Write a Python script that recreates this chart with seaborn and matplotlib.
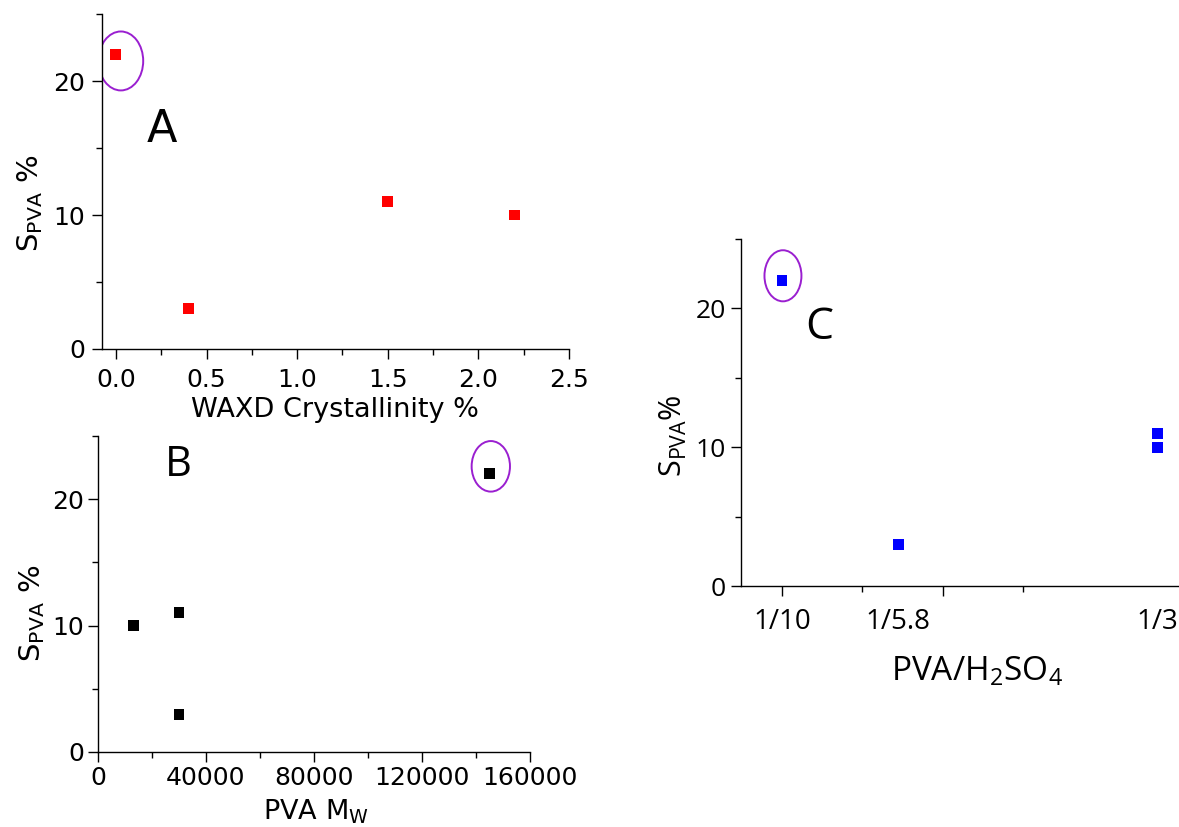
import matplotlib.pyplot as plt
import seaborn as sns
import pandas as pd
from matplotlib.patches import Ellipse
from matplotlib.ticker import MultipleLocator, FixedLocator, NullFormatter

# data: four PVA samples
crystallinity = [0.0, 0.4, 1.5, 2.2]          # WAXD crystallinity %
pva_mw = [145000, 30000, 30000, 13000]         # PVA Mw
pva_h2so4 = [1/10, 1/5.8, 1/3, 1/3]            # PVA/H2SO4 ratio
s_pva = [22, 3, 11, 10]                        # S_PVA %

ratio_ticks = [1/10, 1/5.8, 1/3]
ratio_ticklabels = ['1/10', '1/5.8', '1/3']

df = pd.DataFrame({'cryst': crystallinity, 'mw': pva_mw,
                   'ratio': pva_h2so4, 's': s_pva})

sns.set_style('ticks')
plt.rcParams['font.family'] = ['DejaVu Sans']
plt.rcParams['mathtext.default'] = 'regular'
plt.rcParams['axes.linewidth'] = 1.0
for k in ('text.color', 'axes.labelcolor', 'xtick.color', 'ytick.color',
          'axes.edgecolor'):
    plt.rcParams[k] = 'black'

fig = plt.figure(figsize=(11.79, 8.27), dpi=100)
axA = fig.add_axes([0.0865, 0.578, 0.396, 0.405])
axB = fig.add_axes([0.0831, 0.0907, 0.3664, 0.3821])
axC = fig.add_axes([0.6285, 0.2914, 0.3715, 0.4196])

purple = '#9a1fd0'
msize = 62

# ---- A ----
sns.scatterplot(data=df, x='cryst', y='s', ax=axA, marker='s', s=msize,
                color='#ff0000', edgecolor='none', zorder=3)
axA.set_xlim(-0.077, 2.5)
axA.set_ylim(0, 25)
axA.xaxis.set_major_locator(MultipleLocator(0.5))
axA.xaxis.set_minor_locator(MultipleLocator(0.25))
axA.add_patch(Ellipse((0.027, 21.5), 0.247, 4.4, fill=False, ec=purple, lw=1.4))
axA.text(0.128, 0.654, 'A', transform=axA.transAxes, fontsize=32,
         ha='center', va='center')
axA.set_xlabel('WAXD Crystallinity %', fontsize=19.5, va='center')
axA.xaxis.set_label_coords(0.5, -0.182)
axA.tick_params(axis='x', pad=7)

# ---- B ----
sns.scatterplot(data=df, x='mw', y='s', ax=axB, marker='s', s=msize,
                color='black', edgecolor='none', zorder=3)
axB.set_xlim(0, 160000)
axB.set_ylim(0, 25)
axB.xaxis.set_major_locator(MultipleLocator(40000))
axB.xaxis.set_minor_locator(MultipleLocator(20000))
axB.add_patch(Ellipse((145500, 22.6), 14200, 4.0, fill=False, ec=purple, lw=1.4))
axB.text(0.185, 0.908, 'B', transform=axB.transAxes, fontsize=30,
         family='Open Sans', ha='center', va='center')
axB.set_xlabel('PVA M$_W$', fontsize=19.5, va='center')
axB.xaxis.set_label_coords(0.505, -0.19)
axB.tick_params(axis='x', pad=3)

for ax in (axA, axB):
    ax.set_ylabel('S$_{PVA}$ %', fontsize=21, va='center')
    ax.tick_params(labelsize=18)
axA.yaxis.set_label_coords(-0.153, 0.436)
axB.yaxis.set_label_coords(-0.152, 0.437)
axA.tick_params(axis='y', pad=5)
axB.tick_params(axis='y', pad=3)

# ---- C ----
sns.scatterplot(data=df, x='ratio', y='s', ax=axC, marker='s', s=msize,
                color='#0000ff', edgecolor='none', zorder=3, clip_on=False)
axC.set_xlim(0.0745, 0.347)
axC.set_ylim(0, 25)
axC.xaxis.set_major_locator(FixedLocator([0.1, 0.2]))
axC.xaxis.set_minor_locator(FixedLocator([0.15, 0.25]))
axC.xaxis.set_major_formatter(NullFormatter())
for xv, lab in zip(ratio_ticks, ratio_ticklabels):
    axC.text(xv, -0.104, lab, transform=axC.get_xaxis_transform(),
             fontsize=20, family='Open Sans', ha='center', va='center')
axC.add_patch(Ellipse((0.1006, 22.35), 0.023, 3.68, fill=False, ec=purple, lw=1.4))
axC.text(0.178, 0.744, 'C', transform=axC.transAxes, fontsize=32,
         family='Open Sans', ha='center', va='center')
axC.set_xlabel('PVA/H$_2$SO$_4$', fontsize=24, family='Open Sans', va='center')
axC.xaxis.set_label_coords(0.539, -0.248)
axC.set_ylabel('S$_{PVA}$%', fontsize=22, family='Open Sans', va='center')
axC.yaxis.set_label_coords(-0.155, 0.432)
axC.tick_params(axis='y', labelsize=19, pad=4)
for lab in axC.get_yticklabels():
    lab.set_family('Open Sans')

for ax in (axA, axB, axC):
    ax.yaxis.set_major_locator(MultipleLocator(10))
    ax.yaxis.set_minor_locator(MultipleLocator(5))
    ax.tick_params(which='major', length=7, width=1, color='black')
    ax.tick_params(which='minor', length=4, width=1, color='black')
    sns.despine(ax=ax)

fig.savefig('out.png', dpi=100)
